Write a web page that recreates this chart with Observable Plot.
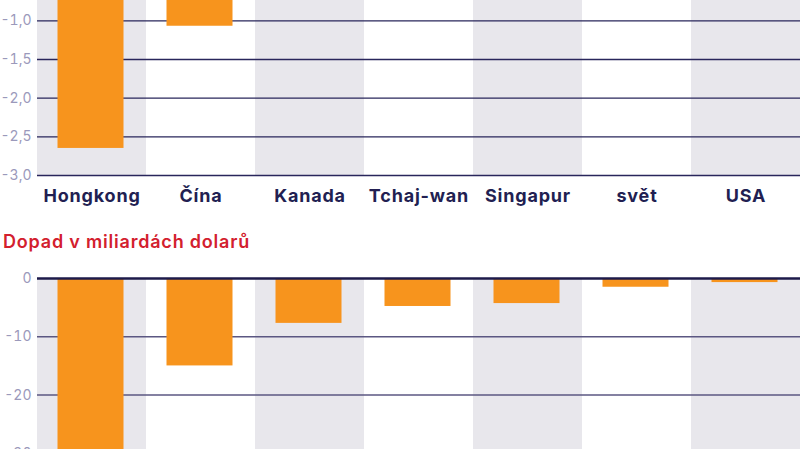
<!DOCTYPE html>
<html>
<head>
<meta charset="utf-8">
<script src="https://cdn.jsdelivr.net/npm/d3@7"></script>
<script src="https://cdn.jsdelivr.net/npm/@observablehq/plot@0.6"></script>
<style>
  html, body { margin: 0; padding: 0; background: #fff; width: 800px; height: 449px; overflow: hidden; }
  #wrap { position: relative; width: 800px; height: 449px; overflow: hidden; }
  #top { position: absolute; left: 0; top: -67px; }
  #title { position: absolute; left: 3px; top: 231px; font-family: Inter, sans-serif; font-weight: 600; font-size: 18px; letter-spacing: 0.8px; line-height: 22px; color: #d3202e; white-space: nowrap; }
  #bottom { position: absolute; left: 0; top: 252px; }
  #top g[aria-label="x-axis tick label"] { letter-spacing: 0.8px; }
</style>
</head>
<body>
<div id="wrap">
  <div id="top"></div>
  <div id="title">Dopad v miliardách dolarů</div>
  <div id="bottom"></div>
</div>
<script>
const countries = ["Hongkong", "Čína", "Kanada", "Tchaj-wan", "Singapur", "svět", "USA"];
const sharePct = [-2.65, -1.07, -0.4, -0.6, -0.55, -0.1, -0.05];
const billionsUsd = [-33, -15, -7.7, -4.8, -4.3, -1.5, -0.7];
const topTicks = [0, -0.5, -1.0, -1.5, -2.0, -2.5, -3.0];
const bottomTicks = [0, -10, -20, -30];
const shadedCountries = countries.filter((c, i) => i % 2 === 0);

const orange = "#f7941d";
const shade = "#e8e7ec";
const navy = "#221f52";
const tickGray = "#9b99bb";

const topData = countries.map((c, i) => ({country: c, value: sharePct[i]}));
const bottomData = countries.map((c, i) => ({country: c, value: billionsUsd[i]}));

const fontStyle = {fontFamily: "Inter, sans-serif", background: "transparent", overflow: "visible"};

const topChart = Plot.plot({
  width: 800,
  height: 287,
  marginLeft: 37,
  marginRight: 0,
  marginTop: 10,
  marginBottom: 45,
  style: fontStyle,
  x: {domain: countries, padding: 0, label: null},
  y: {domain: [-3, 0], label: null},
  marks: [
    Plot.barY(shadedCountries, {x: d => d, y1: 0, y2: -3, fill: shade}),
    Plot.ruleY(topTicks, {stroke: "#29265b", strokeWidth: 1.4}),
    Plot.barY(topData, {x: "country", y: "value", fill: orange, insetLeft: 20.5, insetRight: 22.5}),
    Plot.axisY(topTicks, {tickSize: 0, tickPadding: 6, tickFormat: d => d.toFixed(1).replace(".", ","), fontSize: 14, color: tickGray, label: null}),
    Plot.axisX({tickSize: 0, tickPadding: 13.5, fontSize: 18, fontWeight: 700, color: navy, label: null})
  ]
});
document.getElementById("top").appendChild(topChart);

const bottomChart = Plot.plot({
  width: 800,
  height: 26 + 204 + 10,
  marginLeft: 37,
  marginRight: 0,
  marginTop: 26,
  marginBottom: 10,
  style: fontStyle,
  x: {domain: countries, padding: 0, label: null, axis: null},
  y: {domain: [-35, 0], label: null},
  marks: [
    Plot.barY(shadedCountries, {x: d => d, y1: 0, y2: -35, fill: shade}),
    Plot.ruleY(bottomTicks.filter(d => d !== 0), {stroke: "#5b5782", strokeWidth: 1.6}),
    Plot.barY(bottomData, {x: "country", y: "value", fill: orange, insetLeft: 20.5, insetRight: 22.5}),
    Plot.ruleY([0], {stroke: "#1d1a4a", strokeWidth: 2.4}),
    Plot.axisY(bottomTicks, {tickSize: 0, tickPadding: 6, tickFormat: d => String(d), fontSize: 14, color: tickGray, label: null})
  ]
});
document.getElementById("bottom").appendChild(bottomChart);
</script>
</body>
</html>
